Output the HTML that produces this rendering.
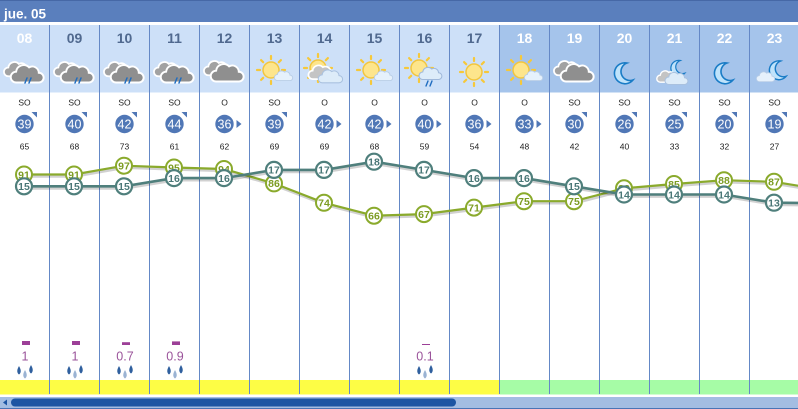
<!DOCTYPE html>
<html><head><meta charset="utf-8"><style>
html,body{margin:0;padding:0;background:#fff;}
svg{display:block;font-family:"Liberation Sans",sans-serif;}
</style></head><body>
<svg width="798" height="409" viewBox="0 0 798 409" xmlns="http://www.w3.org/2000/svg">
<defs>
<path id="cl" d="M-11,6 a5,5 0 0 1 0,-10 a7,7 0 0 1 12,-4 a6,6 0 0 1 9,5 a4.5,4.5 0 0 1 0,9 z"/>
<g id="sun">
 <g stroke="#f6c83a" stroke-width="2.2" stroke-linecap="round">
  <line x1="0" y1="-11" x2="0" y2="-14"/><line x1="0" y1="11" x2="0" y2="14"/>
  <line x1="-11" y1="0" x2="-14" y2="0"/><line x1="11" y1="0" x2="14" y2="0"/>
  <line x1="7.8" y1="-7.8" x2="9.9" y2="-9.9"/><line x1="-7.8" y1="-7.8" x2="-9.9" y2="-9.9"/>
  <line x1="7.8" y1="7.8" x2="9.9" y2="9.9"/><line x1="-7.8" y1="7.8" x2="-9.9" y2="9.9"/>
 </g>
 <circle r="8" fill="#fde58c" stroke="#f3c63e" stroke-width="1.5"/>
</g>
<g id="greycl">
 <use href="#cl" transform="translate(-6,1) scale(0.88)" fill="#a2a2a2" stroke="#fff" stroke-width="2"/>
 <use href="#cl" transform="translate(4,6) scale(1.08)" fill="#8f8f8f" stroke="#fff" stroke-width="1.8"/>
</g>
<g id="raincl">
 <use href="#greycl"/>
 <g stroke="#1f6cc0" stroke-width="1.5" stroke-linecap="round"><line x1="3" y1="8" x2="1" y2="13"/><line x1="7" y1="8" x2="5" y2="13"/></g>
</g>
<path id="moon" d="M3,-10 A10.5,10.5 0 1 0 9,7 A9,9 0 0 1 3,-10 z" fill="#bfe3fb" stroke="#1a7cc6" stroke-width="1.6"/>
<g id="drops">
 <path d="M-6,-6 Q-2.5,0 -6,2.5 Q-9.5,0 -6,-6 z" fill="#2f5f9e"/>
 <path d="M0,-2 Q3.5,4 0,6.5 Q-3.5,4 0,-2 z" fill="#9bb3d3"/>
 <path d="M6,-7 Q9.5,-1 6,1.5 Q2.5,-1 6,-7 z" fill="#2f5f9e"/>
</g>
</defs>

<rect x="0" y="0" width="798" height="22" fill="#5a7fbd"/>
<rect x="0" y="0" width="798" height="1" fill="#4668a6"/>
<text x="4" y="18.5" font-size="13.5" font-weight="bold" fill="#fff">jue. 05</text>

<rect x="0" y="25" width="500" height="67.5" fill="#cde0f8"/>
<rect x="500" y="25" width="298" height="67.5" fill="#a5c4eb"/>

<rect x="0" y="380" width="500" height="14.5" fill="#fdfd45"/>
<rect x="500" y="380" width="298" height="14.5" fill="#a6fca6"/>

<g stroke="#6488c6" stroke-width="1">
<line x1="49.5" y1="25" x2="49.5" y2="394"/><line x1="99.5" y1="25" x2="99.5" y2="394"/>
<line x1="149.5" y1="25" x2="149.5" y2="394"/><line x1="199.5" y1="25" x2="199.5" y2="394"/>
<line x1="249.5" y1="25" x2="249.5" y2="394"/><line x1="299.5" y1="25" x2="299.5" y2="394"/>
<line x1="349.5" y1="25" x2="349.5" y2="394"/><line x1="399.5" y1="25" x2="399.5" y2="394"/>
<line x1="449.5" y1="25" x2="449.5" y2="394"/><line x1="499.5" y1="25" x2="499.5" y2="394"/>
<line x1="549.5" y1="25" x2="549.5" y2="394"/><line x1="599.5" y1="25" x2="599.5" y2="394"/>
<line x1="649.5" y1="25" x2="649.5" y2="394"/><line x1="699.5" y1="25" x2="699.5" y2="394"/>
<line x1="749.5" y1="25" x2="749.5" y2="394"/>
</g>

<g font-size="14" font-weight="bold" text-anchor="middle">
<text x="24.5" y="43" fill="#fff">08</text>
<text x="74.5" y="43" fill="#50698f">09</text>
<text x="124.5" y="43" fill="#50698f">10</text>
<text x="174.5" y="43" fill="#50698f">11</text>
<text x="224.5" y="43" fill="#50698f">12</text>
<text x="274.5" y="43" fill="#50698f">13</text>
<text x="324.5" y="43" fill="#50698f">14</text>
<text x="374.5" y="43" fill="#50698f">15</text>
<text x="424.5" y="43" fill="#50698f">16</text>
<text x="474.5" y="43" fill="#50698f">17</text>
<text x="524.5" y="43" fill="#fff">18</text>
<text x="574.5" y="43" fill="#fff">19</text>
<text x="624.5" y="43" fill="#fff">20</text>
<text x="674.5" y="43" fill="#fff">21</text>
<text x="724.5" y="43" fill="#fff">22</text>
<text x="774.5" y="43" fill="#fff">23</text>
</g>

<use href="#raincl" transform="translate(24,70)"/>
<use href="#raincl" transform="translate(74,70)"/>
<use href="#raincl" transform="translate(124,70)"/>
<use href="#raincl" transform="translate(174,70)"/>
<use href="#greycl" transform="translate(224,69)"/>
<use href="#sun" transform="translate(271,70)"/>
<use href="#cl" transform="translate(284,77) scale(0.6)" fill="#e6f1fc" stroke="#b8cde6" stroke-width="1.5"/>
<use href="#sun" transform="translate(318,68)"/>
<use href="#cl" transform="translate(322,74) scale(0.85)" fill="#c4c4c4" stroke="#fff" stroke-width="2"/>
<use href="#cl" transform="translate(331,78) scale(0.8)" fill="#ddecf9" stroke="#a9c1df" stroke-width="1.3"/>
<use href="#sun" transform="translate(371,70)"/>
<use href="#cl" transform="translate(384,77) scale(0.6)" fill="#e6f1fc" stroke="#b8cde6" stroke-width="1.5"/>
<use href="#sun" transform="translate(419,68)"/>
<use href="#cl" transform="translate(431,75) scale(0.75)" fill="#ddecf9" stroke="#9fb8da" stroke-width="1.4"/>
<g stroke="#1f6cc0" stroke-width="1.4" stroke-linecap="round"><line x1="428" y1="81" x2="426" y2="86"/><line x1="432" y1="81" x2="430" y2="86"/></g>
<use href="#sun" transform="translate(474,72)"/>
<use href="#sun" transform="translate(521,70)"/>
<use href="#cl" transform="translate(534,77) scale(0.6)" fill="#e6f1fc" stroke="#b8cde6" stroke-width="1.5"/>
<use href="#greycl" transform="translate(574,69)"/>
<use href="#moon" transform="translate(624,73)"/>
<use href="#moon" transform="translate(678,68) scale(0.75)"/>
<use href="#cl" transform="translate(668,78) scale(0.7)" fill="#c4c4c4" stroke="#fff" stroke-width="2"/>
<use href="#cl" transform="translate(677,80) scale(0.75)" fill="#ddecf9" stroke="#a9c1df" stroke-width="1.3"/>
<use href="#moon" transform="translate(724,73)"/>
<use href="#moon" transform="translate(778,70) scale(0.9)"/>
<use href="#cl" transform="translate(766,78) scale(0.6)" fill="#e6f1fc" stroke="#b8cde6" stroke-width="1.3"/>

<g font-size="8.5" fill="#222" text-anchor="middle">
<text x="24.5" y="105.3">SO</text><text x="74.5" y="105.3">SO</text><text x="124.5" y="105.3">SO</text><text x="174.5" y="105.3">SO</text>
<text x="224.5" y="105.3">O</text><text x="274.5" y="105.3">SO</text><text x="324.5" y="105.3">O</text><text x="374.5" y="105.3">O</text>
<text x="424.5" y="105.3">O</text><text x="474.5" y="105.3">O</text><text x="524.5" y="105.3">O</text><text x="574.5" y="105.3">SO</text>
<text x="624.5" y="105.3">SO</text><text x="674.5" y="105.3">SO</text><text x="724.5" y="105.3">SO</text><text x="774.5" y="105.3">SO</text>
</g>

<g fill="#5077b6">
<circle cx="24.5" cy="124" r="9.2"/><circle cx="74.5" cy="124" r="9.2"/><circle cx="124.5" cy="124" r="9.2"/><circle cx="174.5" cy="124" r="9.2"/>
<circle cx="224.5" cy="124" r="9.2"/><circle cx="274.5" cy="124" r="9.2"/><circle cx="324.5" cy="124" r="9.2"/><circle cx="374.5" cy="124" r="9.2"/>
<circle cx="424.5" cy="124" r="9.2"/><circle cx="474.5" cy="124" r="9.2"/><circle cx="524.5" cy="124" r="9.2"/><circle cx="574.5" cy="124" r="9.2"/>
<circle cx="624.5" cy="124" r="9.2"/><circle cx="674.5" cy="124" r="9.2"/><circle cx="724.5" cy="124" r="9.2"/><circle cx="774.5" cy="124" r="9.2"/>
<polygon points="31.5,112 37,112 37,117.5"/><polygon points="81.5,112 87,112 87,117.5"/>
<polygon points="131.5,112 137,112 137,117.5"/><polygon points="181.5,112 187,112 187,117.5"/>
<polygon points="281.5,112 287,112 287,117.5"/>
<polygon points="581.5,112 587,112 587,117.5"/><polygon points="631.5,112 637,112 637,117.5"/>
<polygon points="681.5,112 687,112 687,117.5"/><polygon points="731.5,112 737,112 737,117.5"/>
<polygon points="781.5,112 787,112 787,117.5"/>
<polygon points="236.5,120 241.5,124 236.5,128"/><polygon points="336.5,120 341.5,124 336.5,128"/>
<polygon points="386.5,120 391.5,124 386.5,128"/><polygon points="436.5,120 441.5,124 436.5,128"/>
<polygon points="486.5,120 491.5,124 486.5,128"/><polygon points="536.5,120 541.5,124 536.5,128"/>
</g>
<g font-size="12.5" fill="#fff" text-anchor="middle">
<text x="24.5" y="128.5">39</text><text x="74.5" y="128.5">40</text><text x="124.5" y="128.5">42</text><text x="174.5" y="128.5">44</text>
<text x="224.5" y="128.5">36</text><text x="274.5" y="128.5">39</text><text x="324.5" y="128.5">42</text><text x="374.5" y="128.5">42</text>
<text x="424.5" y="128.5">40</text><text x="474.5" y="128.5">36</text><text x="524.5" y="128.5">33</text><text x="574.5" y="128.5">30</text>
<text x="624.5" y="128.5">26</text><text x="674.5" y="128.5">25</text><text x="724.5" y="128.5">20</text><text x="774.5" y="128.5">19</text>
</g>

<g font-size="8.5" fill="#222" text-anchor="middle">
<text x="24.5" y="149.3">65</text><text x="74.5" y="149.3">68</text><text x="124.5" y="149.3">73</text><text x="174.5" y="149.3">61</text>
<text x="224.5" y="149.3">62</text><text x="274.5" y="149.3">69</text><text x="324.5" y="149.3">69</text><text x="374.5" y="149.3">68</text>
<text x="424.5" y="149.3">59</text><text x="474.5" y="149.3">54</text><text x="524.5" y="149.3">48</text><text x="574.5" y="149.3">42</text>
<text x="624.5" y="149.3">40</text><text x="674.5" y="149.3">33</text><text x="724.5" y="149.3">32</text><text x="774.5" y="149.3">27</text>
</g>

<polyline fill="none" stroke="rgba(0,0,0,0.18)" stroke-width="2.5" transform="translate(1,2)"
 points="24,174.5 74,174.5 124,165.7 174,167.5 224,169 274,183.4 324,202.8 374,215.7 424,214.1 474,207.6 524,201.2 574,201.2 624,188.3 674,184 724,180.2 774,181.8 800,186"/>
<polyline fill="none" stroke="#8aaa2c" stroke-width="2.2"
 points="24,174.5 74,174.5 124,165.7 174,167.5 224,169 274,183.4 324,202.8 374,215.7 424,214.1 474,207.6 524,201.2 574,201.2 624,188.3 674,184 724,180.2 774,181.8 800,186"/>
<g fill="#fff" stroke="#8aaa2c" stroke-width="2">
<circle cx="24" cy="174.5" r="8"/><circle cx="74" cy="174.5" r="8"/><circle cx="124" cy="165.7" r="8"/><circle cx="174" cy="167.5" r="8"/>
<circle cx="224" cy="169" r="8"/><circle cx="274" cy="183.4" r="8"/><circle cx="324" cy="202.8" r="8"/><circle cx="374" cy="215.7" r="8"/>
<circle cx="424" cy="214.1" r="8"/><circle cx="474" cy="207.6" r="8"/><circle cx="524" cy="201.2" r="8"/><circle cx="574" cy="201.2" r="8"/>
<circle cx="624" cy="188.3" r="8"/><circle cx="674" cy="184" r="8"/><circle cx="724" cy="180.2" r="8"/><circle cx="774" cy="181.8" r="8"/>
</g>
<g font-size="10.5" font-weight="bold" fill="#7c9c22" text-anchor="middle">
<text x="24" y="178.3">91</text><text x="74" y="178.3">91</text><text x="124" y="169.5">97</text><text x="174" y="171.3">95</text>
<text x="224" y="172.8">94</text><text x="274" y="187.2">86</text><text x="324" y="206.6">74</text><text x="374" y="219.5">66</text>
<text x="424" y="217.9">67</text><text x="474" y="211.4">71</text><text x="524" y="205">75</text><text x="574" y="205">75</text>
<text x="624" y="192.1">83</text><text x="674" y="187.8">85</text><text x="724" y="184">88</text><text x="774" y="185.6">87</text>
</g>

<polyline fill="none" stroke="rgba(0,0,0,0.18)" stroke-width="2.8" transform="translate(1,2)"
 points="24,186.3 74,186.3 124,186.3 174,178.1 224,178.1 274,169.9 324,169.9 374,161.7 424,169.9 474,178.1 524,178.1 574,186.3 624,194.5 674,194.5 724,194.5 774,202.7 800,203"/>
<polyline fill="none" stroke="#4f7f7c" stroke-width="2.6"
 points="24,186.3 74,186.3 124,186.3 174,178.1 224,178.1 274,169.9 324,169.9 374,161.7 424,169.9 474,178.1 524,178.1 574,186.3 624,194.5 674,194.5 724,194.5 774,202.7 800,203"/>
<g fill="#fff" stroke="#4f7f7c" stroke-width="2.2">
<circle cx="24" cy="186.3" r="8"/><circle cx="74" cy="186.3" r="8"/><circle cx="124" cy="186.3" r="8"/><circle cx="174" cy="178.1" r="8"/>
<circle cx="224" cy="178.1" r="8"/><circle cx="274" cy="169.9" r="8"/><circle cx="324" cy="169.9" r="8"/><circle cx="374" cy="161.7" r="8"/>
<circle cx="424" cy="169.9" r="8"/><circle cx="474" cy="178.1" r="8"/><circle cx="524" cy="178.1" r="8"/><circle cx="574" cy="186.3" r="8"/>
<circle cx="624" cy="194.5" r="8"/><circle cx="674" cy="194.5" r="8"/><circle cx="724" cy="194.5" r="8"/><circle cx="774" cy="202.7" r="8"/>
</g>
<g font-size="10.5" font-weight="bold" fill="#4a7777" text-anchor="middle">
<text x="24" y="190.1">15</text><text x="74" y="190.1">15</text><text x="124" y="190.1">15</text><text x="174" y="181.9">16</text>
<text x="224" y="181.9">16</text><text x="274" y="173.7">17</text><text x="324" y="173.7">17</text><text x="374" y="165.5">18</text>
<text x="424" y="173.7">17</text><text x="474" y="181.9">16</text><text x="524" y="181.9">16</text><text x="574" y="190.1">15</text>
<text x="624" y="198.3">14</text><text x="674" y="198.3">14</text><text x="724" y="198.3">14</text><text x="774" y="206.5">13</text>
</g>

<g fill="#9c3f97">
<rect x="22" y="341" width="8" height="4"/><rect x="72" y="341" width="8" height="4"/>
<rect x="122" y="342.2" width="8" height="2.8"/><rect x="172" y="341.4" width="8" height="3.6"/>
<rect x="422" y="344" width="8" height="1"/>
</g>
<g font-size="12.5" fill="#9a539a" text-anchor="middle">
<text x="25" y="360.7">1</text><text x="75" y="360.7">1</text><text x="125" y="360.7">0.7</text><text x="175" y="360.7">0.9</text><text x="425" y="360.7">0.1</text>
</g>
<use href="#drops" transform="translate(25,372)"/>
<use href="#drops" transform="translate(75,372)"/>
<use href="#drops" transform="translate(125,372)"/>
<use href="#drops" transform="translate(175,372)"/>
<use href="#drops" transform="translate(425,372)"/>

<rect x="0" y="397" width="798" height="11" fill="#a3bde2"/>
<rect x="0" y="408" width="798" height="1" fill="#4a74b5"/>
<rect x="11" y="398.5" width="445" height="8" rx="4" fill="#1d55a3"/>
<polygon points="3,402.5 7,399.5 7,405.5" fill="#1d55a3"/>
</svg>
</body></html>
